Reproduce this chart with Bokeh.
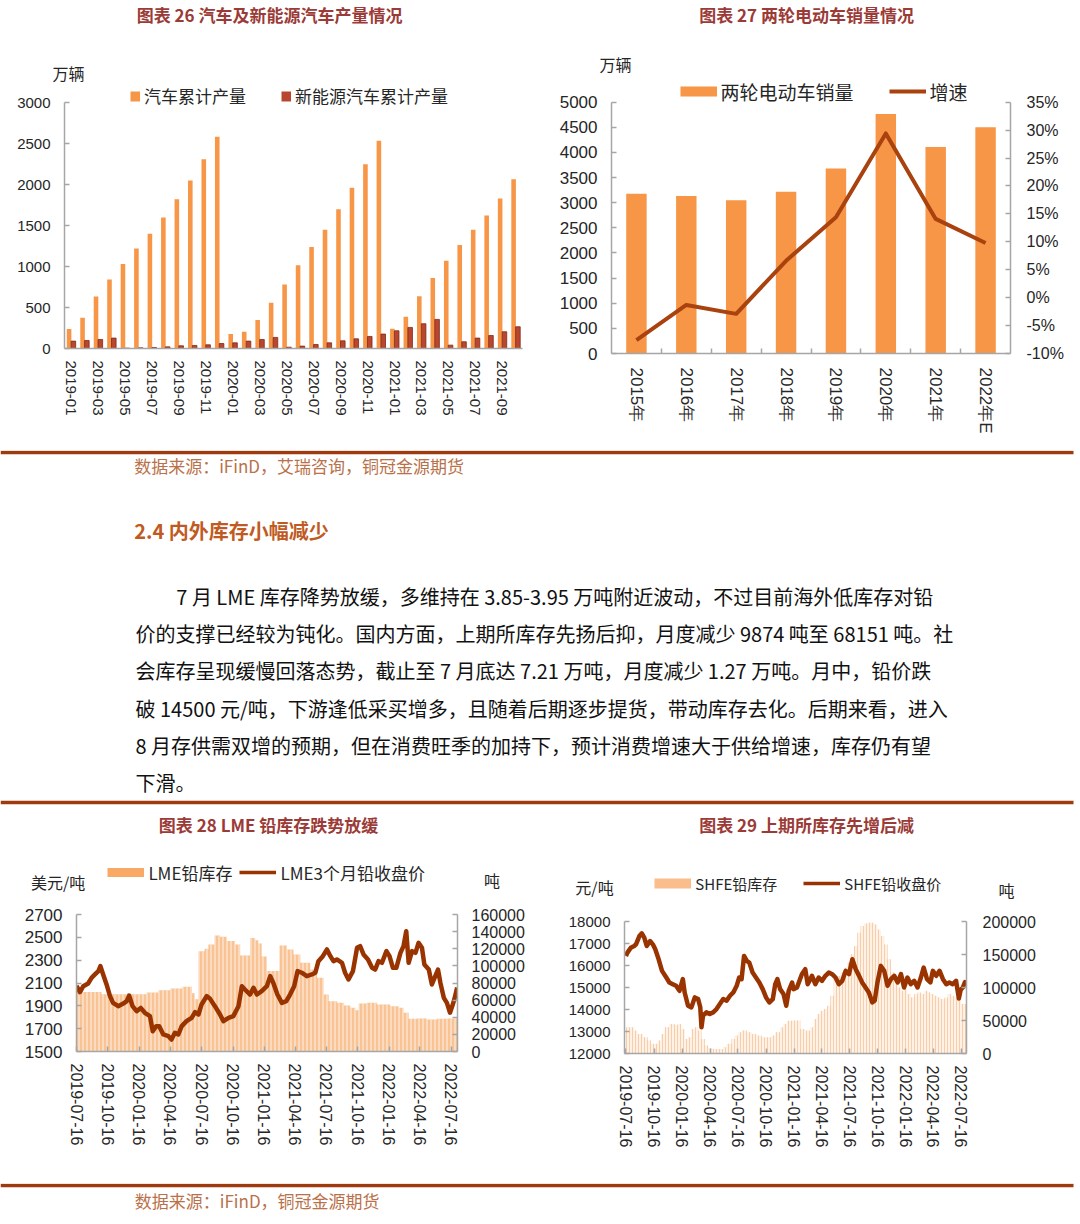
import numpy as np
import pandas as pd
from bokeh.plotting import figure
from bokeh.models import (Range1d, LinearAxis, FixedTicker, Legend, LegendItem,
                          PrintfTickFormatter, NumeralTickFormatter)
from bokeh.layouts import column, row
from bokeh.embed import file_html
from bokeh.resources import INLINE
from bokeh.core.properties import value

CJK = "Noto Sans CJK SC"
NUM = "Liberation Sans"
GREY = "#A6A6A6"
INK = "#262626"
TITLE_C = "#9B3B37"
RULE_C = "#9E3A0E"
ORANGE = "#F79646"
NEV_C = "#B9462E"
PRICE_C = "#993300"
NAN = [float("nan")]

# ---------------- 图表 26 ----------------
months26 = ["2019-01", "2019-02", "2019-03", "2019-04", "2019-05", "2019-06", "2019-07", "2019-08",
            "2019-09", "2019-10", "2019-11", "2019-12", "2020-01", "2020-02", "2020-03", "2020-04",
            "2020-05", "2020-06", "2020-07", "2020-08", "2020-09", "2020-10", "2020-11", "2020-12",
            "2021-01", "2021-02", "2021-03", "2021-04", "2021-05", "2021-06", "2021-07", "2021-08",
            "2021-09", "2021-10"]
car_total = [237, 375, 633, 841, 1029, 1220, 1400, 1598, 1821, 2049, 2309, 2581,
             176, 204, 347, 559, 780, 1016, 1237, 1449, 1699, 1959, 2248, 2533,
             241, 388, 637, 861, 1069, 1261, 1449, 1622, 1829, 2065]
nev_total = [90, 98, 110, 127, 4, 8, 12, 20, 33, 37, 45, 61,
             69, 90, 110, 135, 16, 29, 49, 69, 94, 118, 147, 176,
             216, 257, 302, 355, 41, 82, 127, 159, 204, 265]

# ---------------- 图表 27 ----------------
years27 = ["2015年", "2016年", "2017年", "2018年", "2019年", "2020年", "2021年", "2022年E"]
ebike_sales = [3180, 3133, 3047, 3220, 3680, 4767, 4107, 4500]
ebike_growth = [-7.6, -1.3, -2.9, 6.6, 14.4, 29.4, 14.1, 9.8]

# ---------------- 图表 28 / 29 (x = days since 2019-07-16) ----------------
q_labels = ["2019-07-16", "2019-10-16", "2020-01-16", "2020-04-16", "2020-07-16", "2020-10-16",
            "2021-01-16", "2021-04-16", "2021-07-16", "2021-10-16", "2022-01-16", "2022-04-16",
            "2022-07-16"]

lme_px_day = [0, 10, 20, 34, 44, 54, 64, 70, 78, 88, 98, 107, 122, 137, 147, 154, 164, 176, 188, 200,
              215, 223, 233, 242, 254, 269, 278, 288, 298, 308, 322, 337, 347, 357, 366, 381, 391, 405,
              420, 430, 445, 459, 474, 484, 493, 508, 518, 528, 542, 557, 567, 576, 588, 601, 614, 625,
              637, 647, 659, 674, 689, 699, 708, 721, 733, 743, 752, 762, 777, 786, 796, 809, 821, 830,
              840, 853, 865, 874, 884, 894, 907, 916, 926, 936, 948, 957, 965, 972, 982, 992, 1001,
              1011, 1018, 1031, 1040, 1050, 1058, 1065, 1075, 1084, 1093, 1100, 1106, 1114]
lme_px = [2075, 2020, 2072, 2096, 2145, 2175, 2204, 2248, 2175, 2087, 1985, 1926, 1897, 1920, 1941,
          1990, 1897, 1853, 1882, 1839, 1810, 1678, 1722, 1722, 1649, 1634, 1605, 1664, 1649, 1722,
          1766, 1795, 1845, 1824, 1912, 1985, 1961, 1897, 1824, 1766, 1795, 1810, 1897, 2072, 2043,
          1999, 2058, 1999, 2029, 2072, 2160, 2101, 1999, 1926, 1941, 1999, 2072, 2204, 2190, 2160,
          2175, 2190, 2291, 2335, 2394, 2335, 2291, 2306, 2277, 2190, 2131, 2204, 2408, 2423, 2350,
          2306, 2233, 2218, 2291, 2277, 2379, 2335, 2233, 2233, 2364, 2423, 2554, 2277, 2379, 2364,
          2452, 2408, 2262, 2218, 2087, 2160, 2218, 2101, 1970, 1926, 1840, 1900, 1960, 2060]

lme_stk_day = [0, 70, 73, 195, 205, 240, 275, 310, 330, 338, 346, 357, 375, 386, 404, 420, 440, 464,
               479, 508, 523, 532, 542, 557, 586, 594, 616, 635, 655, 684, 704, 723, 738, 762, 782,
               801, 816, 826, 850, 879, 918, 943, 957, 972, 996, 1026, 1055, 1085, 1115]
lme_stk = [69500, 69500, 66800, 66800, 69000, 71500, 73500, 75500, 75500, 68000, 61000, 117000,
           120000, 125000, 135500, 134000, 129000, 125000, 112000, 132700, 130000, 126000, 111000,
           94000, 94000, 123800, 119000, 113300, 103600, 95800, 86000, 66600, 58800, 56800, 53700,
           51000, 48300, 56100, 56800, 54900, 52900, 51000, 45200, 38200, 38500, 37400, 38200, 38500,
           39000]

shfe_px_day = [0, 5, 16, 27, 33, 44, 52, 60, 68, 79, 88, 96, 107, 118, 132, 142, 153, 164, 175, 186,
               192, 203, 214, 225, 236, 243, 247, 252, 263, 274, 285, 296, 307, 318, 329, 340, 351,
               362, 370, 378, 386, 395, 403, 414, 425, 436, 447, 458, 469, 480, 488, 495, 504, 515,
               524, 532, 543, 548, 559, 575, 586, 594, 608, 619, 630, 641, 652, 663, 674, 685, 696,
               707, 718, 729, 740, 751, 762, 772, 783, 794, 805, 813, 822, 833, 844, 855, 866, 877,
               888, 899, 909, 920, 931, 942, 953, 964, 973, 984, 995, 1003, 1014, 1025, 1036, 1047,
               1057, 1068, 1079, 1088, 1094, 1101, 1108, 1112]
shfe_px = [16434, 16585, 16811, 16887, 16962, 17339, 17460, 17264, 16887, 17113, 16962, 16736, 16283,
           15756, 15454, 15228, 15152, 15077, 14851, 15379, 14775, 14172, 14097, 14549, 14474, 14100,
           13191, 13719, 13870, 13795, 13870, 14021, 14247, 14474, 14398, 14625, 14775, 15077, 15454,
           15379, 16434, 16208, 16132, 15680, 15454, 15228, 14926, 14549, 14323, 14474, 15152, 15379,
           14926, 14700, 14172, 14851, 15228, 14926, 15002, 15605, 15831, 15152, 15529, 15152, 15454,
           15303, 15529, 15680, 15605, 15454, 15152, 15303, 15756, 15605, 16283, 15831, 15529, 15228,
           15002, 14775, 14323, 14398, 15228, 15982, 15756, 15077, 15379, 15529, 15228, 15605, 15002,
           15454, 15152, 15303, 15002, 15454, 15906, 15379, 15228, 15756, 15529, 15756, 15379, 15152,
           15228, 15152, 15303, 14500, 14900, 15000, 15250, 15200]

shfe_stk_day = [0, 22, 27, 38, 55, 71, 82, 93, 104, 115, 126, 142, 159, 170, 181, 192, 203, 214, 225,
                236, 247, 258, 269, 285, 301, 318, 329, 345, 356, 367, 378, 395, 411, 427, 444, 460,
                477, 488, 504, 515, 526, 537, 548, 570, 586, 603, 614, 625, 635, 646, 657, 668, 679,
                690, 701, 712, 723, 734, 745, 756, 767, 778, 789, 800, 811, 822, 833, 844, 855, 866,
                877, 888, 899, 909, 920, 931, 942, 953, 964, 975, 986, 997, 1008, 1019, 1030, 1041,
                1052, 1063, 1074, 1085, 1096, 1112]
shfe_stk = [39700, 39700, 34700, 29600, 24600, 19600, 14600, 14600, 19600, 29600, 39700, 44700, 43700,
            44700, 37200, 22100, 24600, 37200, 39700, 34700, 22100, 12100, 8000, 7000, 7000, 9500,
            14600, 22100, 27100, 32200, 34700, 32200, 29600, 27100, 24600, 24600, 27100, 32200, 39700,
            44700, 49700, 49700, 50000, 37200, 34700, 39700, 52300, 59800, 64800, 67300, 72400, 87400,
            112600, 117600, 122600, 130100, 137700, 150200, 162800, 182900, 193000, 197000, 198000,
            198000, 195500, 187900, 177900, 165300, 142700, 122600, 105000, 100000, 95000, 97500,
            90000, 84900, 90000, 92500, 90000, 95000, 92500, 90000, 87400, 84900, 82400, 84900, 90000,
            87400, 84900, 79900, 74900, 68000]

# ---------------- page text ----------------
src_top = "数据来源：iFinD，艾瑞咨询，铜冠金源期货"
heading = "2.4 内外库存小幅减少"
para_lines = [
    "7 月 LME 库存降势放缓，多维持在 3.85-3.95 万吨附近波动，不过目前海外低库存对铅",
    "价的支撑已经较为钝化。国内方面，上期所库存先扬后抑，月度减少 9874 吨至 68151 吨。社",
    "会库存呈现缓慢回落态势，截止至 7 月底达 7.21 万吨，月度减少 1.27 万吨。月中，铅价跌",
    "破 14500 元/吨，下游逢低采买增多，且随着后期逐步提货，带动库存去化。后期来看，进入",
    "8 月存供需双增的预期，但在消费旺季的加持下，预计消费增速大于供给增速，库存仍有望",
    "下滑。",
]
src_bottom = "数据来源：iFinD，铜冠金源期货"


def base_fig(w, h, L, R, T, B, **kw):
    p = figure(width=w, height=h, min_border_left=L, min_border_right=R, min_border_top=T,
               min_border_bottom=B, toolbar_location=None, output_backend="svg", **kw)
    p.frame_align = False
    p.outline_line_color = None
    p.xgrid.visible = False
    p.ygrid.visible = False
    p.background_fill_color = "white"
    p.border_fill_color = "white"
    return p


def header_fig(h, w=540):
    f = figure(width=w, height=h, x_range=Range1d(0, w), y_range=Range1d(h, 0),
               x_axis_type=None, y_axis_type=None, min_border=0, toolbar_location=None,
               output_backend="svg")
    f.frame_align = False
    f.outline_line_color = None
    f.background_fill_color = "white"
    f.border_fill_color = "white"
    return f


def htext(f, x, y, text, size, color=INK, bold=False, align="center"):
    f.text(x=[x], y=[y], text=[text], text_font=value(CJK), text_font_size=size,
           text_color=color, text_align=align, text_baseline="middle",
           text_font_style="bold" if bold else "normal")


def style_axis(ax, size, standoff, font=NUM):
    ax.axis_line_color = GREY
    ax.axis_line_width = 1.5
    ax.major_tick_line_color = GREY
    ax.major_tick_line_width = 1.5
    ax.major_tick_in = 5
    ax.major_tick_out = 0
    ax.minor_tick_line_color = None
    ax.major_label_text_font = font
    ax.major_label_text_font_size = size
    ax.major_label_text_color = INK
    ax.major_label_standoff = standoff


def swatch(p, color, width):
    # legend-only key (no visible data)
    return p.line(x=NAN, y=NAN, line_color=color, line_width=width, line_cap="butt")


def add_legend(p, items, vx, vy, size, glyph_w, spacing, standoff):
    leg = Legend(items=items, orientation="horizontal", location=(vx, vy),
                 glyph_width=glyph_w, glyph_height=24, label_height=24, label_standoff=standoff,
                 spacing=spacing, padding=0, margin=0, border_line_alpha=0,
                 background_fill_alpha=0, label_text_font=CJK, label_text_font_size=size,
                 label_text_color=INK)
    p.add_layout(leg)


# ================= chart 26 =================
hd26 = header_fig(84)
htext(hd26, 271, 14, "图表 26  汽车及新能源汽车产量情况", "17px", TITLE_C, bold=True)
htext(hd26, 68, 72, "万辆", "16px")

ppu26 = (348 - 102) / 3000
p26 = base_fig(540, 366, 64, 18, 0, 102, x_range=Range1d(-0.5, len(months26) - 0.5),
               y_range=Range1d(0, 3000 + (102 - 84) / ppu26))
idx26 = np.arange(len(months26))
p26.vbar(x=idx26 - 0.16, top=car_total, width=0.34, fill_color=ORANGE, line_color=None)
p26.vbar(x=idx26 + 0.16, top=nev_total, width=0.34, fill_color=NEV_C, line_color="#7F2A18",
         line_width=0.8)
style_axis(p26.yaxis[0], "15px", 14)
p26.yaxis[0].ticker = FixedTicker(ticks=list(range(0, 3001, 500)))
p26.yaxis[0].bounds = (0, 3000)
style_axis(p26.xaxis[0], "15px", 12)
p26.xaxis[0].major_tick_in = 0
p26.xaxis[0].ticker = FixedTicker(ticks=list(range(0, len(months26), 2)))
p26.xaxis[0].major_label_overrides = {i: months26[i] for i in range(0, len(months26), 2)}
p26.xaxis[0].major_label_orientation = "vertical"
sw1 = swatch(p26, ORANGE, 10)
sw2 = swatch(p26, NEV_C, 10)
add_legend(p26, [LegendItem(label="汽车累计产量", renderers=[sw1]),
                 LegendItem(label="新能源汽车累计产量", renderers=[sw2])],
           130 - 64, 348 - (96 + 12), "17px", 10, 35, 4)

# ================= chart 27 =================
hd27 = header_fig(76)
htext(hd27, 268, 14, "图表 27  两轮电动车销量情况", "17px", TITLE_C, bold=True)
htext(hd27, 75, 63, "万辆", "16px")

ppu27 = (353 - 101.7) / 5000
ppp27 = (353 - 101.7) / 45
p27 = base_fig(540, 374, 71, 70, 0, 97, x_range=Range1d(-0.5, len(years27) - 0.5),
               y_range=Range1d(0, 5000 + (101.7 - 76) / ppu27))
p27.extra_y_ranges = {"pct": Range1d(-10, 35 + (101.7 - 76) / ppp27)}
idx27 = np.arange(len(years27))
p27.vbar(x=idx27, top=ebike_sales, width=0.41, fill_color=ORANGE, line_color=None)
r_growth = p27.line(x=idx27, y=ebike_growth, y_range_name="pct", line_color="#A9420F",
                    line_width=4, line_join="round")
style_axis(p27.yaxis[0], "17px", 14)
p27.yaxis[0].ticker = FixedTicker(ticks=list(range(0, 5001, 500)))
p27.yaxis[0].bounds = (0, 5000)
ax_pct = LinearAxis(y_range_name="pct", ticker=FixedTicker(ticks=list(range(-10, 36, 5))),
                    formatter=PrintfTickFormatter(format="%d%%"), bounds=(-10, 35))
style_axis(ax_pct, "16px", 16)
p27.add_layout(ax_pct, "right")
style_axis(p27.xaxis[0], "17px", 14)
p27.xaxis[0].major_tick_in = 0
p27.xaxis[0].ticker = FixedTicker(ticks=list(idx27), minor_ticks=list(idx27[:-1] + 0.5))
p27.xaxis[0].minor_tick_line_color = GREY
p27.xaxis[0].minor_tick_line_width = 1.5
p27.xaxis[0].minor_tick_in = 5
p27.xaxis[0].minor_tick_out = 0
p27.xaxis[0].major_label_overrides = {i: years27[i] for i in range(len(years27))}
p27.xaxis[0].major_label_orientation = "vertical"
sw3 = swatch(p27, ORANGE, 10)
add_legend(p27, [LegendItem(label="两轮电动车销量", renderers=[sw3]),
                 LegendItem(label="增速", renderers=[r_growth])],
           139.5 - 71, 353 - (92.7 + 12), "19px", 37, 35, 4)

# ================= chart 28 =================
base_day = pd.Timestamp(q_labels[0])
q_days = [(pd.Timestamp(s) - base_day).days for s in q_labels]

hd28 = header_fig(88)
htext(hd28, 270, 19, "图表 28  LME 铅库存跌势放缓", "17px", TITLE_C, bold=True)
htext(hd28, 57.7, 76.7, "美元/吨", "16px")
htext(hd28, 491.5, 74, "吨", "16px")
hsw4 = swatch(hd28, "#F8A966", 9)
hsw5 = swatch(hd28, PRICE_C, 3.5)
add_legend(hd28, [LegendItem(label="LME铅库存", renderers=[hsw4]),
                  LegendItem(label="LME3个月铅收盘价", renderers=[hsw5])],
           107.4, 88 - (67.8 + 12), "17px", 37, 7, 4)

p28 = base_fig(540, 290, 76, 83, 21, 132, x_range=Range1d(0, 1115), y_range=Range1d(1500, 2700))
p28.extra_y_ranges = {"stk": Range1d(0, 160000)}
p28.varea_step(x=lme_stk_day, y1=0, y2=lme_stk, step_mode="after", y_range_name="stk",
               fill_color="#F9C394", hatch_pattern="|", hatch_color="white",
               hatch_weight=0.8, hatch_scale=4)
p28.line(x=lme_px_day, y=lme_px, line_color=PRICE_C, line_width=4.5, line_join="round")
style_axis(p28.yaxis[0], "17px", 14)
p28.yaxis[0].ticker = FixedTicker(ticks=list(range(1500, 2701, 200)))
ax_stk = LinearAxis(y_range_name="stk", ticker=FixedTicker(ticks=list(range(0, 160001, 20000))),
                    formatter=NumeralTickFormatter(format="0"))
style_axis(ax_stk, "16px", 14)
p28.add_layout(ax_stk, "right")
style_axis(p28.xaxis[0], "16px", 12)
p28.xaxis[0].ticker = FixedTicker(ticks=q_days)
p28.xaxis[0].major_label_overrides = {d: s for d, s in zip(q_days, q_labels)}
p28.xaxis[0].major_label_orientation = "vertical"

# ================= chart 29 =================
hd29 = header_fig(98)
htext(hd29, 268, 19, "图表 29  上期所库存先增后减", "17px", TITLE_C, bold=True)
htext(hd29, 54, 81, "元/吨", "16px")
htext(hd29, 466, 84, "吨", "16px")
hsw6 = swatch(hd29, "#F9BE8C", 10)
hsw7 = swatch(hd29, PRICE_C, 3.5)
add_legend(hd29, [LegendItem(label="SHFE铅库存", renderers=[hsw6]),
                  LegendItem(label="SHFE铅收盘价", renderers=[hsw7])],
           114.3, 98 - (78 + 12), "15px", 37, 26, 4)

p29 = base_fig(540, 280, 84, 114, 18, 130, x_range=Range1d(-4.6, 1113),
               y_range=Range1d(12000, 18000))
p29.extra_y_ranges = {"stk": Range1d(0, 200000)}
p29.varea_step(x=shfe_stk_day, y1=0, y2=shfe_stk, step_mode="after", y_range_name="stk",
               fill_color="#FEF1E6", hatch_pattern="|", hatch_color="#F9CDAA",
               hatch_weight=1, hatch_scale=3)
p29.line(x=shfe_px_day, y=shfe_px, line_color=PRICE_C, line_width=4.5, line_join="round")
style_axis(p29.yaxis[0], "15px", 14)
p29.yaxis[0].ticker = FixedTicker(ticks=list(range(12000, 18001, 1000)))
ax_stk2 = LinearAxis(y_range_name="stk", ticker=FixedTicker(ticks=list(range(0, 200001, 50000))),
                     formatter=NumeralTickFormatter(format="0"))
style_axis(ax_stk2, "16px", 16)
p29.add_layout(ax_stk2, "right")
style_axis(p29.xaxis[0], "16px", 12)
p29.xaxis[0].ticker = FixedTicker(ticks=q_days)
p29.xaxis[0].major_label_overrides = {d: s for d, s in zip(q_days, q_labels)}
p29.xaxis[0].major_label_orientation = "vertical"

# ================= middle text block =================
mid = header_fig(355, w=1080)
mid.segment(x0=[0, 0], y0=[2, 352], x1=[1073, 1073], y1=[2, 352], line_color=RULE_C, line_width=3.5)
mid.text(x=[133.7], y=[15], text=[src_top], text_font=value(CJK), text_font_size="17px",
         text_color="#B9714A", text_baseline="middle")
mid.text(x=[133.7], y=[80], text=[heading], text_font=value(CJK), text_font_size="20px",
         text_font_style="bold", text_color="#BF5B22", text_baseline="middle")
para_x = [175.8, 135, 135, 135, 135, 135]
para_y = [146, 183, 220, 258, 295, 332]
mid.text(x=para_x, y=para_y, text=para_lines, text_font=value(CJK), text_font_size="20px",
         text_color="#111111", text_baseline="middle")

# ================= footer =================
foot = header_fig(41, w=1080)
foot.segment(x0=[0], y0=[2], x1=[1073], y1=[2], line_color=RULE_C, line_width=3.5)
foot.text(x=[134.3], y=[17], text=[src_bottom], text_font=value(CJK), text_font_size="17px",
          text_color="#B9714A", text_baseline="middle")

page = column(row(column(hd26, p26), column(hd27, p27)), mid,
              row(column(hd28, p28), column(hd29, p29)), foot)
open("out.html", "w").write(file_html(page, INLINE))
